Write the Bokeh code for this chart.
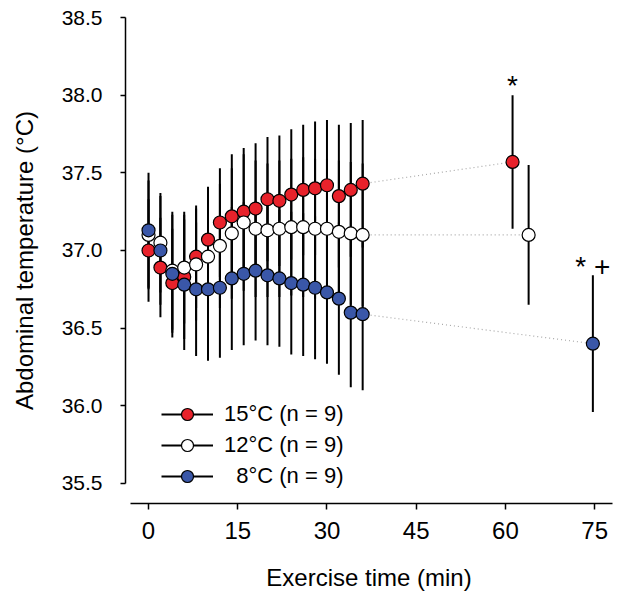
from bokeh.plotting import figure
from bokeh.models import (Range1d, FixedTicker, PrintfTickFormatter, ColumnDataSource,
                          Legend, LegendItem)
from bokeh.core.properties import value
from bokeh.embed import file_html
from bokeh.resources import INLINE

# ---------------- data ----------------
time_min = [0, 2, 4, 6, 8, 10, 12, 14, 16, 18, 20, 22, 24, 26, 28, 30, 32, 34, 36]

t15_mean = [37.00, 36.89, 36.79, 36.83, 36.96, 37.07, 37.18, 37.22, 37.25, 37.27,
            37.33, 37.32, 37.36, 37.39, 37.40, 37.42, 37.35, 37.39, 37.43]
t15_sd = [0.33, 0.32, 0.35, 0.40, 0.33, 0.34, 0.35, 0.40, 0.41, 0.42,
          0.40, 0.42, 0.42, 0.42, 0.43, 0.42, 0.46, 0.43, 0.41]

t12_mean = [37.10, 37.05, 36.87, 36.89, 36.91, 36.96, 37.03, 37.11, 37.18, 37.14,
            37.13, 37.14, 37.15, 37.15, 37.14, 37.14, 37.12, 37.11, 37.10]
t12_sd = [0.35, 0.32, 0.38, 0.36, 0.36, 0.40, 0.40, 0.42, 0.44, 0.44,
          0.43, 0.44, 0.44, 0.45, 0.45, 0.45, 0.46, 0.46, 0.46]

t8_mean = [37.13, 37.00, 36.85, 36.78, 36.75, 36.75, 36.76, 36.82, 36.85, 36.87,
           36.84, 36.82, 36.79, 36.78, 36.76, 36.73, 36.69, 36.60, 36.59]
t8_sd = [0.37, 0.35, 0.38, 0.42, 0.43, 0.46, 0.45, 0.46, 0.46, 0.45,
         0.45, 0.44, 0.46, 0.46, 0.46, 0.46, 0.49, 0.48, 0.49]

# end-of-exercise values (15, 12, 8 degC)
final_time = [61.2, 63.9, 74.7]
final_mean = [37.57, 37.10, 36.40]
final_sd = [0.43, 0.45, 0.44]
final_sig = ["*", "", "* +"]

series_labels = ["15°C (n = 9)", "12°C (n = 9)", "\u00a0\u00a08°C (n = 9)"]
series_colors = ["#E8222B", "#FFFFFF", "#3A57A8"]

x_ticks = [0, 15, 30, 45, 60, 75]
y_ticks = [35.5, 36.0, 36.5, 37.0, 37.5, 38.0, 38.5]

FONT = "Liberation Sans"

# ---------------- figure ----------------
p = figure(frame_width=487, frame_height=486,
           x_range=Range1d(-3.87, 78.0), y_range=Range1d(35.371, 38.5),
           output_backend="svg", toolbar_location=None,
           min_border_left=125, min_border_right=10, min_border_top=17, min_border_bottom=95)
p.outline_line_color = None
p.grid.visible = False
p.background_fill_color = "white"
p.border_fill_color = "white"

means = [t15_mean, t12_mean, t8_mean]
sds = [t15_sd, t12_sd, t8_sd]

# error bars
bar_renderers = []
for k in range(3):
    xs = time_min + [final_time[k]]
    ms = means[k] + [final_mean[k]]
    ss = sds[k] + [final_sd[k]]
    src = ColumnDataSource(dict(x=xs, lo=[m - s for m, s in zip(ms, ss)],
                                hi=[m + s for m, s in zip(ms, ss)]))
    r = p.segment(x0="x", y0="lo", x1="x", y1="hi", source=src,
                  line_color="black", line_width=2)
    bar_renderers.append(r)

# dotted connectors from last exercise point to end value
conn = ColumnDataSource(dict(x0=[time_min[-1]] * 3, y0=[m[-1] for m in means],
                             x1=final_time, y1=final_mean))
p.segment(x0="x0", y0="y0", x1="x1", y1="y1", source=conn,
          line_color="#A8A8A8", line_width=1.2, line_dash="1 3")

# markers
marker_renderers = []
for k in range(3):
    src = ColumnDataSource(dict(x=time_min + [final_time[k]], y=means[k] + [final_mean[k]]))
    r = p.scatter(x="x", y="y", source=src, size=13, marker="circle",
                  fill_color=series_colors[k], line_color="black", line_width=1.2)
    marker_renderers.append(r)

# significance marks
sig_src = ColumnDataSource(dict(x=final_time,
                                y=[m + s + 0.06 for m, s in zip(final_mean, final_sd)],
                                t=final_sig))
p.text(x="x", y="y", text="t", source=sig_src, text_align="center",
       text_baseline="middle", text_font=value(FONT), text_font_size="28px",
       text_color="black")

# legend
items = [LegendItem(label=series_labels[k], renderers=[bar_renderers[k], marker_renderers[k]])
         for k in range(3)]
legend = Legend(items=items, location=(36, 12), padding=0, margin=0, spacing=1,
                glyph_width=52, glyph_height=30, label_height=30, label_standoff=11,
                label_text_font=FONT, label_text_font_size="22px",
                label_text_color="black",
                border_line_color=None, background_fill_alpha=0)
p.add_layout(legend)

# axes
for ax in (p.xaxis[0], p.yaxis[0]):
    ax.axis_line_color = "black"
    ax.axis_line_width = 1.5
    ax.major_tick_line_color = "black"
    ax.major_tick_line_width = 1.5
    ax.major_tick_in = 0
    ax.minor_tick_line_color = None
    ax.major_label_text_font = FONT
    ax.major_label_text_color = "black"
    ax.axis_label_text_font = FONT
    ax.axis_label_text_font_style = "normal"
    ax.axis_label_text_color = "black"
    ax.axis_label_text_font_size = "24px"

p.xaxis.ticker = FixedTicker(ticks=x_ticks)
p.xaxis.bounds = (-3.0, 78.0)
p.xaxis.major_tick_out = 6
p.xaxis.major_label_text_font_size = "24px"
p.xaxis.major_label_standoff = 12
p.xaxis.axis_label = "Exercise time (min)"
p.xaxis.axis_label_standoff = 22

p.yaxis.ticker = FixedTicker(ticks=y_ticks)
p.yaxis.formatter = PrintfTickFormatter(format="%.1f")
p.yaxis.bounds = (35.5, 38.5)
p.yaxis.major_tick_out = 5
p.yaxis.major_label_text_font_size = "21px"
p.yaxis.major_label_standoff = 18
p.yaxis.axis_label = "Abdominal temperature (°C)"
p.yaxis.axis_label_standoff = 21

open("out.html", "w").write(file_html(p, INLINE))
